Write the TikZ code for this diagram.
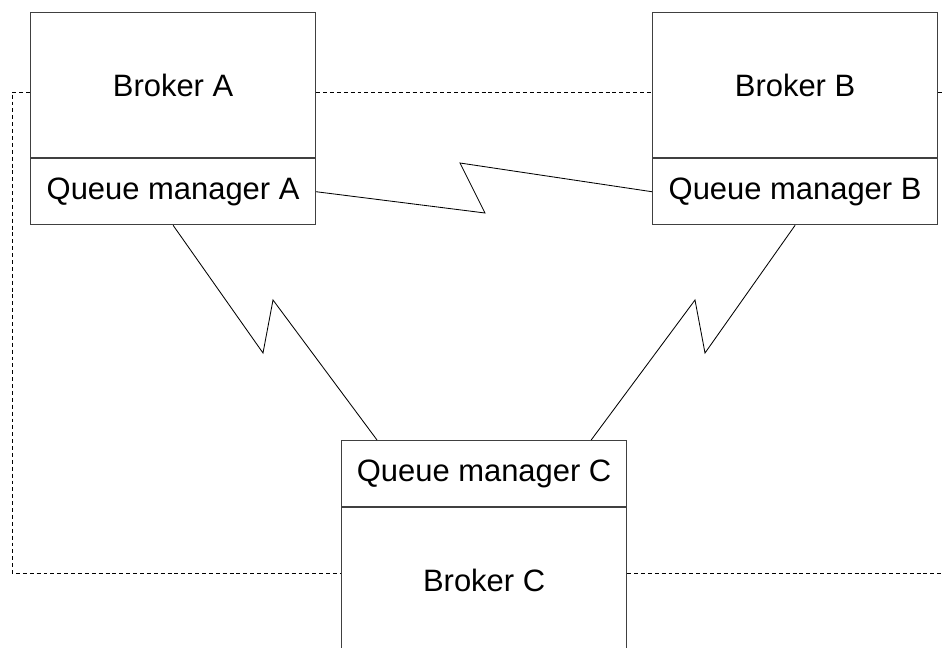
\documentclass[tikz,border=0pt]{standalone}
\usepackage{fontspec}
\setmainfont{Liberation Sans}
\usepackage{tikz}

\tikzset{
	broker/.style={draw=black!75, line width=0.8pt, minimum width=7.125cm,
		minimum height=3.625cm, inner sep=0pt, font=\fontsize{22}{26}\selectfont},
	qm/.style={broker, minimum height=1.65cm},
	link/.style={line width=0.6pt},
	ring/.style={line width=0.6pt, dash pattern=on 2.8pt off 2.1pt}
}

\begin{document}
\begin{tikzpicture}[x=0.025cm, y=-0.025cm]
				\clip (0,0) rectangle (942,648);
				\node[broker, anchor=north west] (brokerA) at (30,12) {Broker A};
				\node[qm, anchor=north] (qmA) at (brokerA.south) {Queue manager A};
				\node[broker, anchor=north west] (brokerB) at (652,12) {Broker B};
				\node[qm, anchor=north] (qmB) at (brokerB.south) {Queue manager B};
				\node[qm, anchor=north west] (qmC) at (341,440) {Queue manager C};
				\node[broker, anchor=north] (brokerC) at (qmC.south) {Broker C};
				% zigzag channels
				\coordinate (Z0) at (485,213);
				\coordinate (Z1) at (460,163);
				\coordinate (Z2) at (263,353);
				\coordinate (Z3) at (273,300);
				\coordinate (Z4) at (705,353);
				\coordinate (Z5) at (695,300);
				\draw[link] (qmA.east) -- (Z0) -- (Z1) -- (qmB.west);
				\draw[link] (qmA.south) -- (Z2) -- (Z3) -- ([xshift=0.9cm]qmC.north west);
				\draw[link] (qmB.south) -- (Z4) -- (Z5) -- ([xshift=-0.9cm]qmC.north east);
				% dashed ring
				\coordinate (R0) at (12,92);
				\coordinate (R1) at (12,573);
				\coordinate (R2) at (942,92);
				\coordinate (R3) at (942,573);
				\draw[ring] (R0 -| brokerA.west) -- (R0) -- (R1) -- (R1 -| brokerC.west);
				\draw[ring] (R0 -| brokerA.east) -- (R0 -| brokerB.west);
				\draw[ring] (R0 -| brokerB.east) -- (R2);
				\draw[ring] (R1 -| brokerC.east) -- (R3);
				\end{tikzpicture}
\end{document}
